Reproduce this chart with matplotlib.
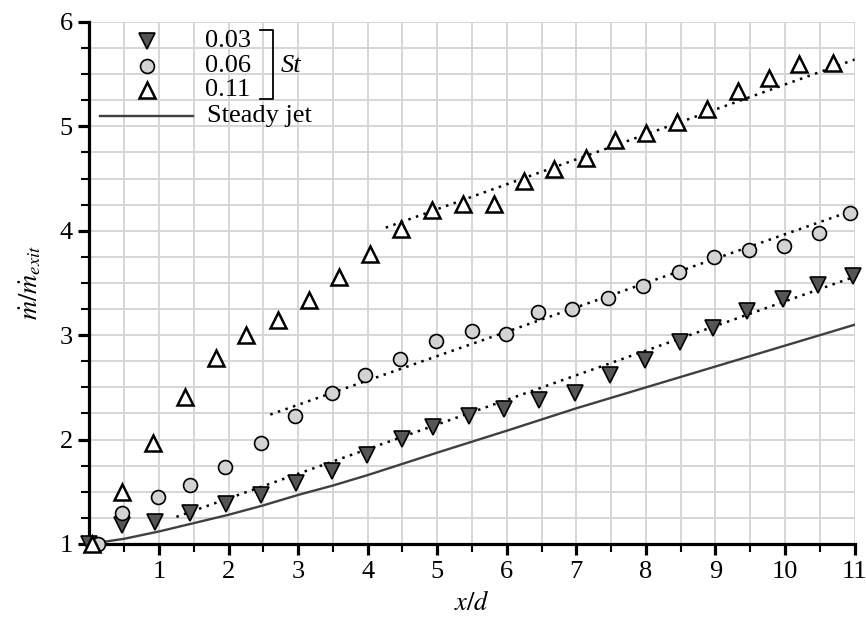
import numpy as np
import matplotlib.pyplot as plt
from matplotlib.ticker import MultipleLocator

plt.rcParams['font.family'] = ['Liberation Serif', 'DejaVu Serif']
plt.rcParams['mathtext.fontset'] = 'stix'

# St = 0.03 (triângulos para baixo)
x_003 = [0.0, 0.47, 0.94, 1.45, 1.96, 2.46, 2.97, 3.48, 3.99, 4.49, 4.94, 5.46,
         5.96, 6.47, 6.98, 7.48, 7.99, 8.49, 8.96, 9.46, 9.97, 10.47, 10.98]
y_003 = [1.0, 1.18, 1.21, 1.30, 1.38, 1.47, 1.58, 1.70, 1.85, 2.01, 2.12, 2.23,
         2.29, 2.38, 2.45, 2.62, 2.76, 2.93, 3.07, 3.23, 3.35, 3.48, 3.57]

# St = 0.06 (círculos)
x_006 = [0.12, 0.47, 0.99, 1.45, 1.95, 2.46, 2.96, 3.48, 3.96, 4.47, 4.98, 5.50,
         5.99, 6.45, 6.94, 7.46, 7.96, 8.47, 8.98, 9.48, 9.99, 10.49, 10.93]
y_006 = [1.0, 1.30, 1.45, 1.565, 1.74, 1.97, 2.23, 2.45, 2.62, 2.77, 2.94, 3.04,
         3.01, 3.22, 3.25, 3.36, 3.47, 3.61, 3.75, 3.82, 3.85, 3.98, 4.17]

# St = 0.11 (triângulos abertos)
x_011 = [0.03, 0.47, 0.92, 1.37, 1.82, 2.25, 2.71, 3.15, 3.59, 4.04, 4.48, 4.92, 5.37,
         5.81, 6.25, 6.68, 7.14, 7.56, 8.00, 8.44, 8.88, 9.33, 9.77, 10.20, 10.69]
y_011 = [1.0, 1.50, 1.965, 2.41, 2.78, 3.00, 3.15, 3.34, 3.555, 3.78, 4.02, 4.20, 4.26,
         4.26, 4.48, 4.59, 4.70, 4.87, 4.94, 5.04, 5.17, 5.34, 5.46, 5.60, 5.61]

# jato estacionário
x_steady = [0, 0.5, 1, 1.5, 2, 2.5, 3, 3.5, 4, 5, 6, 7, 8, 9, 10, 11]
y_steady = [1.0, 1.05, 1.12, 1.20, 1.28, 1.37, 1.47, 1.56, 1.66, 1.875, 2.085,
            2.30, 2.50, 2.70, 2.90, 3.10]

# ajustes lineares (pontilhados)
fit_003_x, fit_003_y = [1.25, 11.0], [1.26, 3.56]
fit_006_x, fit_006_y = [2.60, 11.0], [2.24, 4.20]
fit_011_x, fit_011_y = [4.26, 11.0], [4.03, 5.64]

st_labels = ['0.03', '0.06', '0.11']

fig = plt.figure(figsize=(8.66, 6.21), dpi=100)
ax = fig.add_axes([0.1033, 0.124, 0.8835, 0.8406])

ax.set_xlim(0, 11)
ax.set_ylim(1, 6)
ax.xaxis.set_major_locator(MultipleLocator(1))
ax.xaxis.set_minor_locator(MultipleLocator(0.5))
ax.yaxis.set_major_locator(MultipleLocator(1))
ax.yaxis.set_minor_locator(MultipleLocator(0.25))
ax.grid(True, which='both', color='#d6d6d6', lw=1.4, zorder=0)
ax.set_axisbelow(True)

for s in ['top', 'right']:
    ax.spines[s].set_visible(False)
for s in ['left', 'bottom']:
    ax.spines[s].set_linewidth(2.3)
ax.tick_params(which='major', direction='out', length=8, width=2.3, labelsize=19, pad=4)
ax.tick_params(which='minor', direction='out', length=6, width=1.5)
ax.set_xticks(range(1, 12))
ax.set_xticklabels([str(i) for i in range(1, 12)])

fit_style = dict(color='black', lw=1.8, ls=(0, (1, 2.2)), zorder=2)
ax.plot(fit_003_x, fit_003_y, **fit_style)
ax.plot(fit_006_x, fit_006_y, **fit_style)
ax.plot(fit_011_x, fit_011_y, **fit_style)
ax.plot(x_steady, y_steady, color='#404040', lw=1.7, zorder=2)

ax.plot(x_003, y_003, 'v', ms=12, mfc='#555555', mec='black', mew=1.2, ls='none',
        clip_on=False, zorder=3)
ax.plot(x_006, y_006, 'o', ms=10, mfc='#d3d3d3', mec='black', mew=1.2, ls='none',
        clip_on=False, zorder=3)
ax.plot(x_011, y_011, '^', ms=12, mfc='white', mec='black', mew=1.8, ls='none',
        clip_on=False, zorder=3)

# legenda manual com colchete "St"
tr = ax.transAxes
leg_y = [0.9636, 0.9157, 0.8697]
leg_styles = [dict(marker='v', ms=12, mfc='#555555', mec='black', mew=1.2),
              dict(marker='o', ms=10, mfc='#d3d3d3', mec='black', mew=1.2),
              dict(marker='^', ms=12, mfc='white', mec='black', mew=1.8)]
for yy, lab, st in zip(leg_y, st_labels, leg_styles):
    ax.plot([0.075], [yy], transform=tr, ls='none', clip_on=False, zorder=4, **st)
    ax.text(0.151, yy, lab, transform=tr, fontsize=19, va='center', ha='left')
ax.plot([0.2228, 0.2398, 0.2398, 0.2228], [0.9847, 0.9847, 0.8525, 0.8525],
        transform=tr, color='black', lw=1.3, clip_on=False)
ax.text(0.250, 0.9157, 'St', transform=tr, fontsize=19, style='italic',
        va='center', ha='left')
ax.plot([0.0137, 0.1353], [0.820, 0.820], transform=tr, color='#404040', lw=1.7)
ax.text(0.1536, 0.820, 'Steady jet', transform=tr, fontsize=19, va='center', ha='left')

ax.set_xlabel(r'$x/d$', fontsize=19, labelpad=6)
ax.set_ylabel(r'$\dot{m}/\dot{m}_{exit}$', fontsize=19, labelpad=12)

fig.savefig('out.png', dpi=100)
